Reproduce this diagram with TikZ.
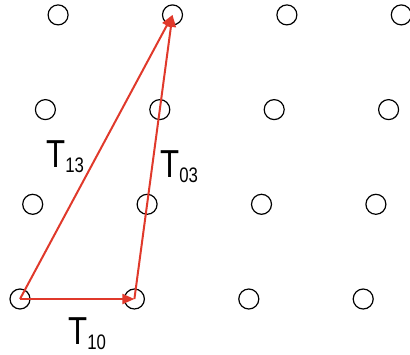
\documentclass[tikz,border=0pt]{standalone}
\usepackage{fontspec}
\setmainfont{Liberation Sans}[FakeStretch=0.8]
\usetikzlibrary{arrows.meta, positioning, calc}
\definecolor{vecred}{HTML}{E0392B}
\newcommand{\vlabel}[1]{T\raisebox{-5pt}{\fontsize{21}{21}\selectfont #1}}

\begin{document}
\begin{tikzpicture}[
  x=1pt, y=-1pt,
  site/.style={circle, draw=black, line width=1.2pt, minimum size=20pt, inner sep=0pt},
  vec/.style={draw=vecred, line width=2pt, -{Triangle[length=12pt, width=10pt]}},
  vlbl/.style={font=\fontsize{39}{42}\selectfont, inner sep=0pt, anchor=base west},
]
  \useasboundingbox (0,0) rectangle (410,354);
  % lattice sites
  \foreach \i in {0,...,3} {
    \foreach \j in {0,...,3} {
      \node[site] (s\i\j) at ({20+114.4*\i+12.7*\j}, {299-94.7*\j}) {};
    }
  }
  % translation vectors
  \draw[vec] (s00.center) -- (s10.center);
  \draw[vec] (s10.center) -- (s13.center);
  \draw[vec] (s00.center) -- (s13.center);
  % labels
  \node[vlbl] (t10) at (68,344) {\vlabel{10}};
  \node[vlbl] (t03) at (160,177) {\vlabel{03}};
  \node[vlbl] (t13) at (46,167) {\vlabel{13}};
\end{tikzpicture}
\end{document}
